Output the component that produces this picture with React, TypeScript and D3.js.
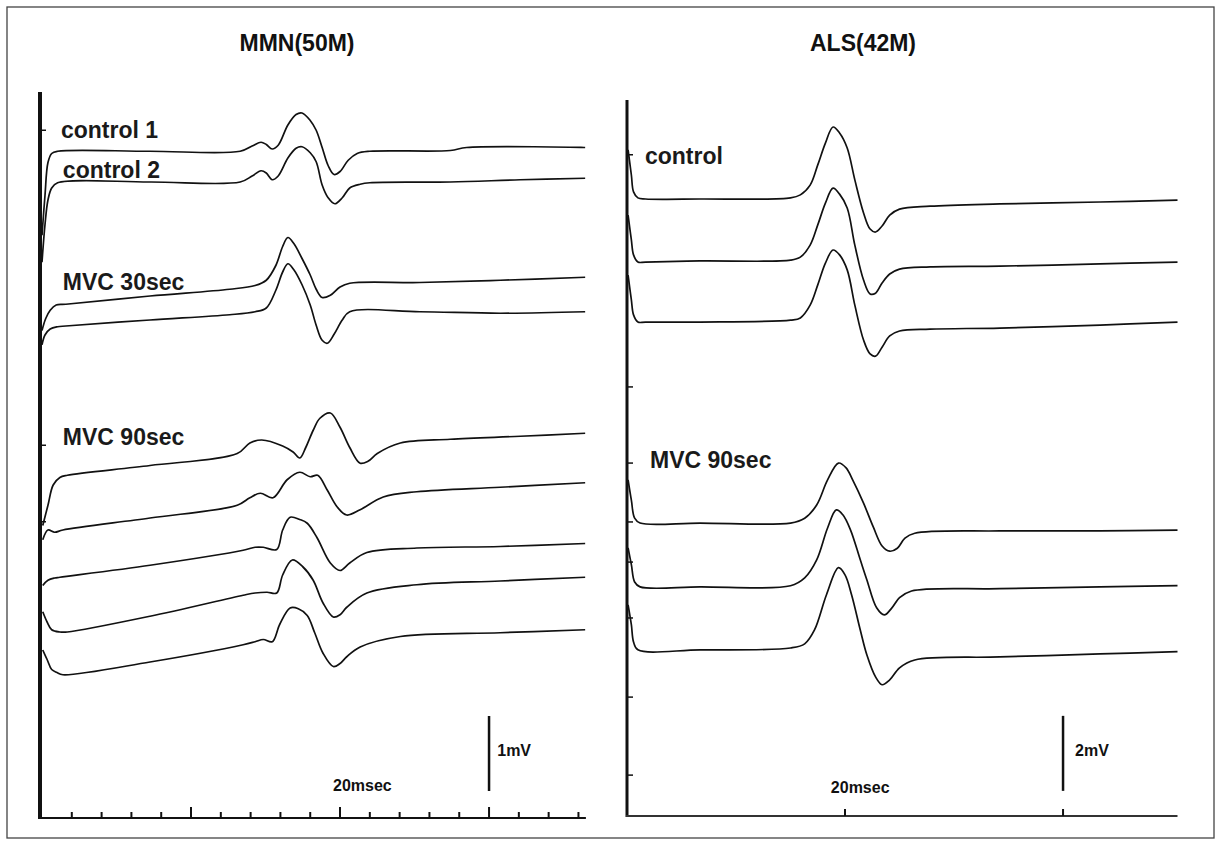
import * as d3 from 'd3'

// time (msec), amplitude (mV, relative to each trace's own baseline)
const mmnControl1 = [[0, -1.12], [0.4, -0.59], [0.8, -0.15], [1.3, -0.03], [2.1, 0], [14.5, 0], [26.6, 0], [28.2, 0.07], [29.4, 0.12], [30.1, 0.09], [30.9, 0.03], [31.7, 0.08], [33.0, 0.35], [34.1, 0.49], [34.9, 0.51], [36.0, 0.41], [36.8, 0.28], [37.6, 0.05], [38.4, -0.19], [39.2, -0.31], [40.0, -0.27], [41.1, -0.12], [42.3, -0.03], [44.0, 0], [54.8, 0.01], [57.0, 0.05], [72.9, 0.05]]
const mmnControl2 = [[0, -1.07], [0.4, -0.57], [0.8, -0.24], [1.3, -0.08], [2.1, -0.01], [14.5, 0], [26.6, 0], [28.2, 0.08], [29.4, 0.15], [30.1, 0.12], [30.9, 0.03], [31.7, 0.08], [33.0, 0.32], [34.1, 0.45], [34.9, 0.47], [36.0, 0.39], [36.8, 0.27], [37.6, -0.04], [38.4, -0.21], [39.3, -0.29], [40.3, -0.21], [41.3, -0.08], [42.7, -0.03], [44.0, -0.01], [54.8, 0], [64.2, 0.03], [72.9, 0.05]]
const mmnMvc30a = [[0, -0.35], [0.5, -0.19], [1.1, -0.08], [1.9, -0.01], [3.2, 0], [14.5, 0.11], [25.2, 0.2], [28.6, 0.25], [30.1, 0.32], [31.4, 0.52], [32.3, 0.77], [33.0, 0.89], [33.8, 0.81], [34.9, 0.61], [36.0, 0.39], [36.8, 0.2], [37.6, 0.09], [38.7, 0.12], [40.0, 0.23], [41.3, 0.28], [50.7, 0.29], [61.5, 0.32], [72.9, 0.36]]
const mmnMvc30b = [[0, -0.25], [0.4, -0.12], [1.1, -0.04], [2.1, -0.01], [3.2, 0], [14.5, 0.08], [25.2, 0.15], [28.6, 0.19], [30.1, 0.24], [31.4, 0.48], [32.3, 0.72], [33.0, 0.83], [33.8, 0.75], [34.9, 0.55], [36.0, 0.28], [36.8, 0.01], [37.6, -0.19], [38.3, -0.23], [39.2, -0.11], [40.3, 0.08], [41.3, 0.19], [50.7, 0.19], [61.5, 0.17], [72.9, 0.19]]
const mmnMvc90a = [[0.1, -0.67], [0.8, -0.4], [1.5, -0.13], [2.4, -0.03], [3.4, 0], [14.5, 0.13], [26.2, 0.29], [27.9, 0.43], [29.5, 0.47], [32.3, 0.39], [33.7, 0.31], [34.6, 0.23], [35.4, 0.37], [36.4, 0.6], [37.3, 0.76], [38.7, 0.83], [40.0, 0.64], [41.3, 0.37], [42.7, 0.16], [43.8, 0.19], [45.0, 0.29], [48.1, 0.43], [54.8, 0.48], [64.2, 0.52], [72.9, 0.56]]
const mmnMvc90b = [[0.1, -0.13], [0.8, 0], [1.7, -0.03], [2.8, 0], [14.5, 0.16], [26.2, 0.33], [27.9, 0.43], [29.3, 0.49], [31.0, 0.43], [32.9, 0.67], [34.6, 0.77], [36.0, 0.71], [37.0, 0.73], [38.3, 0.53], [39.6, 0.31], [40.9, 0.2], [42.7, 0.27], [45.8, 0.44], [50.3, 0.51], [61.5, 0.57], [72.9, 0.63]]
const mmnMvc90c = [[0.1, -0.11], [0.8, -0.04], [1.7, -0.01], [2.4, 0], [14.5, 0.16], [27.0, 0.36], [28.6, 0.4], [29.7, 0.4], [31.5, 0.37], [32.3, 0.63], [33.3, 0.8], [34.6, 0.77], [35.6, 0.72], [36.9, 0.53], [38.7, 0.19], [40.0, 0.09], [41.3, 0.19], [43.6, 0.33], [50.3, 0.39], [61.5, 0.41], [72.9, 0.45]]
const mmnMvc90d = [[0.1, 0.27], [0.7, 0.13], [1.3, 0.03], [2.4, 0], [3.4, 0], [14.5, 0.21], [27.0, 0.49], [28.6, 0.52], [30.2, 0.53], [31.5, 0.52], [32.3, 0.76], [33.6, 0.96], [35.0, 0.87], [36.4, 0.69], [37.7, 0.39], [39.1, 0.2], [40.0, 0.23], [40.9, 0.33], [43.6, 0.52], [50.3, 0.63], [61.5, 0.68], [72.9, 0.73]]
const mmnMvc90e = [[0.1, 0.33], [0.7, 0.2], [1.3, 0.07], [2.0, 0.03], [2.8, 0], [14.5, 0.17], [27.0, 0.4], [28.6, 0.44], [29.7, 0.47], [30.9, 0.44], [31.9, 0.67], [33.3, 0.89], [34.4, 0.88], [35.6, 0.79], [36.6, 0.56], [37.7, 0.29], [39.1, 0.11], [40.0, 0.15], [40.9, 0.24], [42.7, 0.37], [48.1, 0.51], [61.5, 0.56], [72.9, 0.6]]
const mmnOffsets = [8.89, 8.48, 6.85, 6.56, 4.57, 3.84, 3.21, 2.48, 1.91]

const alsControlA = [[0.1, 1.31], [0.4, 0.64], [0.6, 0.19], [1.0, 0.03], [1.7, 0], [6.7, 0], [15.0, 0.03], [15.9, 0.11], [16.8, 0.37], [17.5, 0.91], [18.2, 1.49], [18.9, 1.92], [19.5, 1.76], [20.2, 1.36], [20.9, 0.51], [21.7, -0.37], [22.3, -0.8], [22.8, -0.88], [23.4, -0.72], [24.1, -0.43], [25.0, -0.27], [27.8, -0.19], [34.2, -0.13], [43.4, -0.08], [50.5, -0.03]]
const alsControlB = [[0.1, 1.25], [0.4, 0.59], [0.6, 0.19], [1.0, 0], [1.7, 0], [6.7, 0.03], [15.0, 0.05], [15.9, 0.13], [16.8, 0.45], [17.5, 0.99], [18.2, 1.57], [18.9, 1.97], [19.5, 1.81], [20.2, 1.44], [20.9, 0.45], [21.7, -0.48], [22.3, -0.85], [22.8, -0.83], [23.4, -0.56], [24.1, -0.32], [25.0, -0.19], [27.8, -0.13], [34.2, -0.11], [43.4, -0.05], [50.5, 0]]
const alsControlC = [[0.1, 1.25], [0.4, 0.59], [0.6, 0.19], [1.0, 0], [1.7, 0], [6.7, 0], [15.0, 0.05], [15.9, 0.11], [16.8, 0.45], [17.5, 0.99], [18.2, 1.57], [18.9, 1.92], [19.5, 1.79], [20.2, 1.39], [20.9, 0.45], [21.7, -0.48], [22.3, -0.85], [22.8, -0.91], [23.4, -0.67], [24.1, -0.37], [25.0, -0.24], [27.8, -0.19], [34.2, -0.16], [43.4, -0.08], [50.5, 0]]
const alsMvc90A = [[0.1, 1.15], [0.4, 0.61], [0.7, 0.13], [1.2, 0], [6.7, 0], [15.0, 0], [16.3, 0.13], [17.4, 0.48], [18.4, 1.15], [19.4, 1.6], [20.1, 1.47], [20.7, 1.15], [21.7, 0.53], [22.6, -0.11], [23.4, -0.61], [24.1, -0.75], [24.8, -0.67], [25.5, -0.4], [26.4, -0.27], [34.2, -0.21], [43.4, -0.21], [50.5, -0.19]]
const alsMvc90B = [[0.1, 1.04], [0.4, 0.59], [0.7, 0.13], [1.2, 0], [6.7, 0], [15.0, 0.03], [16.3, 0.24], [17.4, 0.72], [18.4, 1.57], [19.2, 2.05], [19.8, 1.92], [20.5, 1.52], [21.4, 0.72], [22.0, 0.19], [22.9, -0.56], [23.6, -0.75], [24.3, -0.56], [25.0, -0.29], [26.1, -0.11], [34.2, -0.05], [43.4, 0], [50.5, 0.03]]
const alsMvc90C = [[0.1, 1.2], [0.4, 0.67], [0.6, 0.21], [1.0, 0], [6.7, 0], [15.0, 0.05], [16.3, 0.16], [17.2, 0.53], [18.3, 1.47], [19.4, 2.19], [20.0, 2.0], [20.6, 1.47], [21.4, 0.53], [22.0, -0.13], [22.8, -0.72], [23.4, -0.93], [24.1, -0.8], [25.0, -0.48], [26.4, -0.27], [34.2, -0.19], [43.4, -0.11], [50.5, -0.05]]
const alsOffsets = [16.45, 14.77, 13.17, 7.81, 6.11, 4.43]

const mmnTraces = [mmnControl1, mmnControl2, mmnMvc30a, mmnMvc30b, mmnMvc90a, mmnMvc90b, mmnMvc90c, mmnMvc90d, mmnMvc90e]
const alsTraces = [alsControlA, alsControlB, alsControlC, alsMvc90A, alsMvc90B, alsMvc90C]

const titles = ['MMN(50M)', 'ALS(42M)']
const mmnLabels = ['control 1', 'control 2', 'MVC 30sec', 'MVC 90sec']
const alsLabels = ['control', 'MVC 90sec']
const mmnTicks = d3.range(4, 73, 4)
const mmnMajor = [20, 40, 60]
const alsTicks = [20, 40]
const mmnAxisMarks = [9.17, 4.97, 3.95]
const alsAxisMarks = [17.63, 11.44, 9.41, 7.84, 6.77, 5.28, 3.17, 1.09]

const FONT = '"Liberation Sans", Arial, Helvetica, sans-serif'
const INK = '#111'

const makeLine = (x, y, offset) =>
    d3.line<number[]>()
        .x(d => x(d[0]))
        .y(d => y(offset + d[1]))
        .curve(d3.curveCatmullRom.alpha(0.5))

const App = () => {
    // left panel scales
    const xL = d3.scaleLinear().domain([0, 73]).range([42, 585.9])
    const yL = d3.scaleLinear().domain([0, 9.68]).range([818, 92])
    // right panel scales
    const xR = d3.scaleLinear().domain([0, 50.5]).range([627, 1177.5])
    const yR = d3.scaleLinear().domain([0, 19.09]).range([816, 100])

    const label = { fontSize: 23, fontWeight: 'bold', fill: '#1a1a1a' }

    return (
        <svg width={1219} height={843} style={{ position: 'absolute', left: 0, top: 0, background: '#fff' }}
            fontFamily={FONT}>
            <rect x={7} y={7} width={1207} height={831} fill='none' stroke='#444' strokeWidth={1.3} />

            <text x={297} y={51} textAnchor='middle' fontSize={23} fontWeight='bold' fill={INK}>{titles[0]}</text>
            <text x={863} y={51} textAnchor='middle' fontSize={23} fontWeight='bold' fill={INK}>{titles[1]}</text>

            {/* MMN panel */}
            <g>
                <line x1={40} x2={40} y1={yL(9.68)} y2={yL(0) + 1} stroke={INK} strokeWidth={4} />
                <line x1={38} x2={xL(73)} y1={yL(0)} y2={yL(0)} stroke={INK} strokeWidth={2} />
                {mmnTicks.map(t => (
                    <line key={t} x1={xL(t)} x2={xL(t)} y1={yL(0)}
                        y2={yL(0) - (mmnMajor.includes(t) ? 11 : 6)} stroke={INK} strokeWidth={2} />
                ))}
                {mmnAxisMarks.map(v => (
                    <line key={v} x1={40} x2={46} y1={yL(v)} y2={yL(v)} stroke={INK} strokeWidth={1.5} />
                ))}
                {mmnTraces.map((tr, i) => (
                    <path key={i} d={makeLine(xL, yL, mmnOffsets[i])(tr)} fill='none' stroke={INK} strokeWidth={1.7} />
                ))}
                <text x={xL(2.55)} y={yL(9.07)} {...label}>{mmnLabels[0]}</text>
                <text x={xL(2.8)} y={yL(8.53)} {...label}>{mmnLabels[1]}</text>
                <text x={xL(2.8)} y={yL(7.04)} {...label}>{mmnLabels[2]}</text>
                <text x={xL(2.8)} y={yL(4.97)} {...label}>{mmnLabels[3]}</text>

                <line x1={xL(60)} x2={xL(60)} y1={yL(0.36)} y2={yL(1.36)} stroke={INK} strokeWidth={2.5} />
                <text x={xL(61.1)} y={yL(0.83)} fontSize={16} fontWeight='bold' fill={INK}>1mV</text>
                <text x={xL(39.06)} y={yL(0.36)} fontSize={16} fontWeight='bold' fill={INK}>20msec</text>
            </g>

            {/* ALS panel */}
            <g>
                <line x1={627} x2={627} y1={yR(19.09)} y2={yR(0) + 1} stroke={INK} strokeWidth={3} />
                <line x1={626} x2={xR(50.5)} y1={yR(0)} y2={yR(0)} stroke='#333' strokeWidth={2} />
                {alsTicks.map(t => (
                    <line key={t} x1={xR(t)} x2={xR(t)} y1={yR(0)} y2={yR(0) - 7} stroke={INK} strokeWidth={2} />
                ))}
                {alsAxisMarks.map(v => (
                    <line key={v} x1={627} x2={633} y1={yR(v)} y2={yR(v)} stroke={INK} strokeWidth={1.5} />
                ))}
                {alsTraces.map((tr, i) => (
                    <path key={i} d={makeLine(xR, yR, alsOffsets[i])(tr)} fill='none' stroke={INK} strokeWidth={1.7} />
                ))}
                <text x={xR(1.65)} y={yR(17.39)} {...label}>{alsLabels[0]}</text>
                <text x={xR(2.11)} y={yR(9.28)} {...label}>{alsLabels[1]}</text>

                <line x1={xR(40)} x2={xR(40)} y1={yR(0.67)} y2={yR(2.67)} stroke={INK} strokeWidth={2.5} />
                <text x={xR(41.1)} y={yR(1.6)} fontSize={16} fontWeight='bold' fill={INK}>2mV</text>
                <text x={xR(18.7)} y={yR(0.61)} fontSize={16} fontWeight='bold' fill={INK}>20msec</text>
            </g>
        </svg>
    )
}

export default App
